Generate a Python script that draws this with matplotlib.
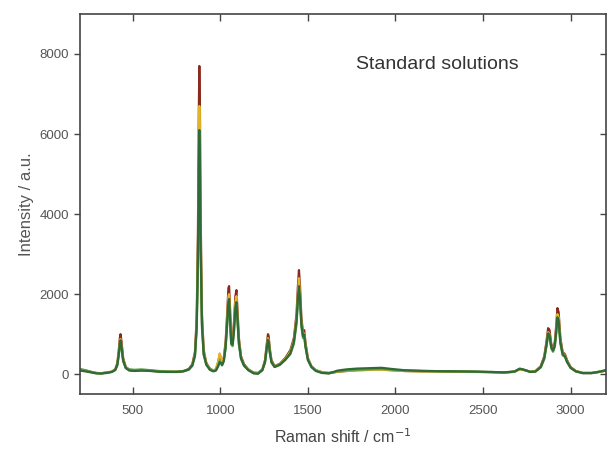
import matplotlib
matplotlib.use("Agg")
import matplotlib.pyplot as plt

# Raman shift (cm^-1) shared by all spectra
shift = [
    200, 230, 260, 290, 320, 350, 380, 400, 412, 420,
    426, 430, 436, 445, 460, 480, 510, 550, 600, 650,
    700, 750, 790, 820, 840, 855, 865, 872, 877, 880,
    883, 888, 895, 905, 920, 940, 960, 975, 988, 996,
    1002, 1010, 1020, 1030, 1040, 1046, 1050, 1055, 1062, 1070,
    1078, 1086, 1092, 1098, 1106, 1118, 1135, 1160, 1190, 1215,
    1240, 1255, 1265, 1272, 1276, 1282, 1292, 1310, 1340, 1370,
    1400, 1420, 1435, 1443, 1449, 1455, 1463, 1472, 1479, 1486,
    1500, 1520, 1545, 1580, 1620, 1670, 1720, 1780, 1850, 1920,
    1980, 2050, 2150, 2250, 2350, 2450, 2550, 2620, 2680, 2710,
    2740, 2770, 2800, 2830, 2850, 2862, 2872, 2880, 2890, 2900,
    2910, 2918, 2925, 2932, 2942, 2955, 2968, 2980, 3000, 3030,
    3070, 3120, 3170, 3200,
]

std_a = [
    110, 90, 60, 30, 25, 40, 60, 120, 280, 600,
    900, 1000, 800, 400, 180, 110, 90, 100, 90, 70,
    60, 60, 80, 130, 250, 550, 1400, 3500, 6500, 7700,
    6800, 3800, 1500, 600, 280, 140, 90, 120, 300, 480,
    420, 300, 420, 800, 1600, 2150, 2200, 1700, 900, 850,
    1300, 1950, 2100, 1600, 900, 450, 250, 120, 40, 30,
    120, 350, 750, 1000, 950, 650, 350, 200, 260, 400,
    600, 900, 1500, 2200, 2600, 2200, 1400, 1050, 1100, 800,
    400, 200, 100, 50, 30, 60, 80, 100, 110, 120,
    100, 80, 70, 70, 60, 60, 50, 40, 60, 130,
    100, 60, 80, 200, 450, 800, 1150, 1100, 750, 640,
    800, 1200, 1650, 1550, 900, 550, 500, 350, 180, 80,
    30, 30, 60, 90,
]

std_b = [
    100, 80, 55, 30, 25, 45, 65, 110, 250, 530,
    800, 880, 700, 360, 170, 110, 95, 95, 85, 70,
    60, 60, 75, 120, 230, 500, 1250, 3100, 5800, 6700,
    6000, 3400, 1350, 550, 260, 130, 90, 130, 330, 520,
    450, 320, 400, 720, 1450, 1950, 2000, 1550, 820, 780,
    1200, 1800, 1950, 1450, 820, 420, 230, 110, 40, 30,
    110, 320, 680, 900, 860, 600, 320, 190, 250, 380,
    560, 840, 1400, 2000, 2400, 2000, 1300, 980, 1020, 740,
    380, 190, 100, 50, 35, 60, 80, 95, 105, 110,
    95, 80, 70, 65, 60, 55, 50, 40, 60, 120,
    95, 60, 80, 190, 420, 740, 1050, 1000, 700, 600,
    750, 1100, 1500, 1420, 840, 520, 470, 330, 170, 80,
    35, 35, 60, 90,
]

std_c = [
    130, 100, 60, 30, 20, 40, 60, 100, 220, 470,
    700, 780, 620, 320, 160, 120, 110, 120, 100, 80,
    70, 65, 80, 110, 210, 440, 1100, 2700, 5000, 5700,
    5100, 2900, 1150, 480, 230, 120, 80, 100, 220, 330,
    300, 240, 340, 640, 1280, 1720, 1780, 1380, 740, 700,
    1050, 1600, 1720, 1300, 740, 380, 210, 100, 30, 20,
    100, 290, 620, 820, 780, 540, 290, 180, 230, 350,
    500, 760, 1250, 1800, 2050, 1800, 1180, 900, 940, 680,
    350, 180, 90, 40, 20, 70, 90, 110, 120, 130,
    110, 90, 80, 70, 70, 60, 55, 45, 70, 130,
    100, 60, 70, 170, 380, 680, 960, 920, 640, 560,
    680, 1000, 1350, 1280, 760, 470, 430, 300, 160, 70,
    30, 30, 70, 100,
]

std_d = [
    90, 70, 45, 20, 15, 30, 55, 110, 240, 500,
    760, 850, 680, 340, 150, 90, 80, 90, 80, 60,
    55, 55, 70, 120, 220, 470, 1200, 2900, 5300, 6100,
    5400, 3100, 1250, 500, 240, 110, 70, 90, 200, 300,
    280, 220, 330, 680, 1350, 1820, 1880, 1450, 780, 740,
    1100, 1680, 1800, 1380, 780, 400, 220, 100, 20, 10,
    100, 300, 650, 860, 820, 570, 300, 180, 240, 360,
    520, 800, 1320, 1900, 2200, 1900, 1250, 950, 990, 700,
    360, 180, 80, 30, 20, 90, 120, 140, 150, 160,
    130, 100, 85, 75, 70, 65, 55, 45, 65, 140,
    105, 55, 65, 180, 400, 720, 1020, 980, 680, 590,
    720, 1060, 1420, 1350, 800, 500, 450, 310, 160, 70,
    25, 25, 65, 95,
]

spectra = [std_a, std_b, std_c, std_d]
colors = ["#8a2a1e", "#e0b52a", "#5f9f46", "#2f6a38"]

plt.rcParams["font.family"] = ["Liberation Sans", "DejaVu Sans"]

fig = plt.figure(figsize=(6.08, 4.5), dpi=100)
ax = fig.add_axes([0.132, 0.124, 0.864, 0.845])

for ys, c in zip(spectra, colors):
    ax.plot(shift, ys, color=c, lw=1.6)

ax.set_xlim(200, 3200)
ax.set_ylim(-500, 9000)
ax.set_xticks([500, 1000, 1500, 2000, 2500, 3000])
ax.set_yticks([0, 2000, 4000, 6000, 8000])

for s in ax.spines.values():
    s.set_color("#444444")
    s.set_linewidth(1.2)

ax.tick_params(axis="x", direction="in", top=True, length=5, width=1,
               color="#444444", labelsize=9.5, labelcolor="#555555", pad=8)
ax.tick_params(axis="y", direction="out", length=4, width=1,
               color="#444444", labelsize=9.5, labelcolor="#555555", pad=4)
ax.tick_params(axis="y", which="both", right=True)
for t in ax.yaxis.get_ticklines()[1::2]:
    t.set_marker(matplotlib.lines.TICKLEFT)

ax.set_xlabel("Raman shift / cm$^{-1}$", fontsize=11.5, color="#444444", labelpad=7)
ax.set_ylabel("Intensity / a.u.", fontsize=12, color="#555555", labelpad=4)

ax.text(0.68, 0.866, "Standard solutions", transform=ax.transAxes,
        ha="center", va="center", fontsize=14, color="#333333")

fig.savefig("out.png", dpi=100)
